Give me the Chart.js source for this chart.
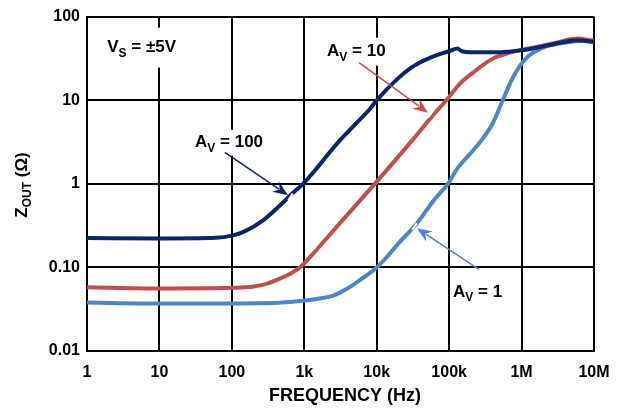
<!DOCTYPE html>
<html>
<head>
<meta charset="utf-8">
<script src="https://cdn.jsdelivr.net/npm/chart.js@4.4.0/dist/chart.umd.min.js"></script>
<style>
  html, body { margin: 0; padding: 0; background: #fff; }
  #wrap { width: 626px; height: 408px; }
</style>
</head>
<body>
<div id="wrap"><canvas id="chart" width="626" height="408"></canvas></div>
<script>
// axis ticks
const freqTicks = [1, 10, 100, 1e3, 1e4, 1e5, 1e6, 1e7];
const freqLabels = ['1', '10', '100', '1k', '10k', '100k', '1M', '10M'];
const zTicks = [0.01, 0.1, 1, 10, 100];
const zLabels = ['0.01', '0.10', '1', '10', '100'];

// A_V = 100
const freqAv100 = [1, 10, 60, 100, 150, 270, 460, 700, 960, 1500, 2260, 3100, 5000, 8100, 1e4, 2e4, 3e4, 4e4, 5.4e4, 7.4e4, 1e5, 1.3e5, 1.5e5, 2e5, 5e5, 1e6, 1.5e6, 2.5e6, 4e6, 6e6, 1e7];
const zAv100 = [0.225, 0.222, 0.226, 0.24, 0.27, 0.366, 0.55, 0.78, 1.0, 1.55, 2.4, 3.3, 5.1, 7.9, 10, 18.5, 24.5, 28.5, 32, 35.5, 38.5, 41.5, 38.5, 37.5, 37.5, 39.5, 42, 46, 50, 52, 50];

// A_V = 10
const freqAv10 = [1, 10, 100, 200, 305, 450, 640, 870, 1000, 1500, 3400, 1e4, 3.17e4, 5.8e4, 9.6e4, 1.41e5, 2.14e5, 4.03e5, 6.9e5, 1.23e6, 2.7e6, 4e6, 5.9e6, 8e6, 1e7];
const zAv10 = [0.058, 0.056, 0.057, 0.059, 0.064, 0.073, 0.084, 0.1, 0.112, 0.165, 0.37, 1.06, 3.4, 6.4, 10.5, 15.8, 21.4, 31.5, 37, 41.5, 47.6, 52, 54.6, 53, 51];

// A_V = 1
const freqAv1 = [1, 10, 100, 640, 1800, 2500, 3400, 4500, 5900, 7500, 1e4, 1.4e4, 1.9e4, 3.6e4, 6e4, 1e5, 1.28e5, 2.14e5, 3e5, 4e5, 5.5e5, 7.6e5, 1.17e6, 2e6, 4.2e6, 7e6, 1e7];
const zAv1 = [0.038, 0.037, 0.037, 0.0385, 0.043, 0.046, 0.052, 0.06, 0.071, 0.082, 0.1, 0.135, 0.185, 0.337, 0.62, 1.05, 1.5, 2.5, 3.6, 5.3, 10, 18.7, 32, 42.6, 49, 51, 50];

const navy = '#0c2468';
const red = '#c0504d';
const blue = '#4f86c6';

const pts = (xs, ys) => xs.map((x, i) => ({ x: x, y: ys[i] }));

// labels and arrows, placed in data units
const labels = [
  { f: 1.9, z: 42.6, main: 'V', sub: 'S', rest: ' = \u00b15V', padY: 20 },
  { f: 31, z: 3.1, main: 'A', sub: 'V', rest: ' = 100', padY: 13 },
  { f: 2060, z: 38, main: 'A', sub: 'V', rest: ' = 10', padY: 14 },
  { f: 113000, z: 0.0506, main: 'A', sub: 'V', rest: ' = 1', padY: 0 }
];
const arrows = [
  { f0: 80, z0: 2.38, f1: 596, z1: 0.73, color: navy },
  { f0: 5700, z0: 28.2, f1: 51000, z1: 7.1, color: red },
  { f0: 258000, z0: 0.095, f1: 36000, z1: 0.294, color: blue }
];

const FONT = 'bold 17px "Liberation Sans", Arial, sans-serif';
const SUBFONT = 'bold 12px "Liberation Sans", Arial, sans-serif';

function subWidth(ctx, l) {
  ctx.font = FONT;
  let w = ctx.measureText(l.main).width + ctx.measureText(l.rest).width;
  ctx.font = SUBFONT;
  return w + ctx.measureText(l.sub).width;
}

function drawSub(ctx, x, y, main, sub, rest) {
  ctx.textBaseline = 'middle';
  ctx.textAlign = 'left';
  ctx.font = FONT;
  ctx.fillText(main, x, y);
  x += ctx.measureText(main).width;
  ctx.font = SUBFONT;
  ctx.fillText(sub, x, y + 6);
  x += ctx.measureText(sub).width;
  ctx.font = FONT;
  ctx.fillText(rest, x, y);
}

const notes = {
  id: 'notes',
  beforeDatasetsDraw(chart) {
    const ctx = chart.ctx, xs = chart.scales.x, ys = chart.scales.y;
    ctx.save();
    ctx.fillStyle = '#fff';
    labels.forEach(l => {
      if (!l.padY) return;
      const x = xs.getPixelForValue(l.f), y = ys.getPixelForValue(l.z);
      ctx.fillRect(x - 4, y - l.padY, subWidth(ctx, l) + 8, l.padY * 2);
    });
    ctx.restore();
  },
  afterDatasetsDraw(chart) {
    const ctx = chart.ctx, xs = chart.scales.x, ys = chart.scales.y;
    ctx.save();
    ctx.fillStyle = '#000';
    labels.forEach(l => {
      drawSub(ctx, xs.getPixelForValue(l.f), ys.getPixelForValue(l.z), l.main, l.sub, l.rest);
    });
    arrows.forEach(a => {
      const x0 = xs.getPixelForValue(a.f0), y0 = ys.getPixelForValue(a.z0);
      const x1 = xs.getPixelForValue(a.f1), y1 = ys.getPixelForValue(a.z1);
      const ang = Math.atan2(y1 - y0, x1 - x0);
      const hl = 15, hw = 6;
      // small white notch on the curve
      ctx.strokeStyle = '#fff';
      ctx.lineWidth = 2;
      ctx.beginPath();
      ctx.moveTo(x1 + 3 * Math.cos(ang) - 4 * Math.sin(ang), y1 + 3 * Math.sin(ang) + 4 * Math.cos(ang));
      ctx.lineTo(x1 + 3 * Math.cos(ang) + 4 * Math.sin(ang), y1 + 3 * Math.sin(ang) - 4 * Math.cos(ang));
      ctx.stroke();
      const bx = x1 - hl * Math.cos(ang), by = y1 - hl * Math.sin(ang);
      ctx.strokeStyle = a.color;
      ctx.fillStyle = a.color;
      ctx.lineWidth = 1.5;
      ctx.beginPath();
      ctx.moveTo(x0, y0);
      ctx.lineTo(bx + 4 * Math.cos(ang), by + 4 * Math.sin(ang));
      ctx.stroke();
      ctx.beginPath();
      ctx.moveTo(x1, y1);
      ctx.lineTo(bx - hw * Math.sin(ang), by + hw * Math.cos(ang));
      ctx.lineTo(bx + 5 * Math.cos(ang), by + 5 * Math.sin(ang));
      ctx.lineTo(bx + hw * Math.sin(ang), by - hw * Math.cos(ang));
      ctx.closePath();
      ctx.fill();
    });

    // axis titles
    ctx.fillStyle = '#000';
    ctx.textAlign = 'center';
    ctx.textBaseline = 'middle';
    ctx.font = 'bold 18px "Liberation Sans", Arial, sans-serif';
    ctx.fillText('FREQUENCY (Hz)', 345, 396);

    ctx.translate(22, 185);
    ctx.rotate(-Math.PI / 2);
    const yl = { main: 'Z', sub: 'OUT', rest: ' (\u03a9)' };
    const w = subWidth(ctx, yl);
    drawSub(ctx, -w / 2, 0, yl.main, yl.sub, yl.rest);
    ctx.restore();
  }
};

new Chart(document.getElementById('chart'), {
  type: 'line',
  data: {
    datasets: [
      { data: pts(freqAv100, zAv100), borderColor: navy },
      { data: pts(freqAv10, zAv10), borderColor: red },
      { data: pts(freqAv1, zAv1), borderColor: blue }
    ].map(d => Object.assign(d, { borderWidth: 4, pointRadius: 0, fill: false, cubicInterpolationMode: 'monotone' }))
  },
  options: {
    responsive: false,
    animation: false,
    layout: { padding: { top: 16, right: 32, left: 0, bottom: 0 } },
    plugins: { legend: { display: false }, tooltip: { enabled: false } },
    scales: {
      x: {
        type: 'logarithmic',
        min: 1,
        max: 1e7,
        afterBuildTicks: s => { s.ticks = freqTicks.map(v => ({ value: v })); },
        afterFit: s => { s.height = 57; },
        ticks: {
          callback: (v, i) => freqLabels[i],
          color: '#000',
          font: { family: '"Liberation Sans", Arial, sans-serif', size: 16, weight: 'bold' },
          padding: 12,
          maxRotation: 0,
          autoSkip: false
        },
        grid: { color: '#000', lineWidth: 2, drawTicks: false },
        border: { color: '#000', width: 2 }
      },
      y: {
        type: 'logarithmic',
        min: 0.01,
        max: 100,
        afterBuildTicks: s => { s.ticks = zTicks.map(v => ({ value: v })); },
        afterFit: s => { s.width = 87; },
        ticks: {
          callback: (v, i) => zLabels[i],
          color: '#000',
          font: { family: '"Liberation Sans", Arial, sans-serif', size: 16, weight: 'bold' },
          padding: 7,
          autoSkip: false
        },
        grid: { color: '#000', lineWidth: 2, drawTicks: false },
        border: { color: '#000', width: 2 }
      }
    }
  },
  plugins: [notes]
});
</script>
</body>
</html>
